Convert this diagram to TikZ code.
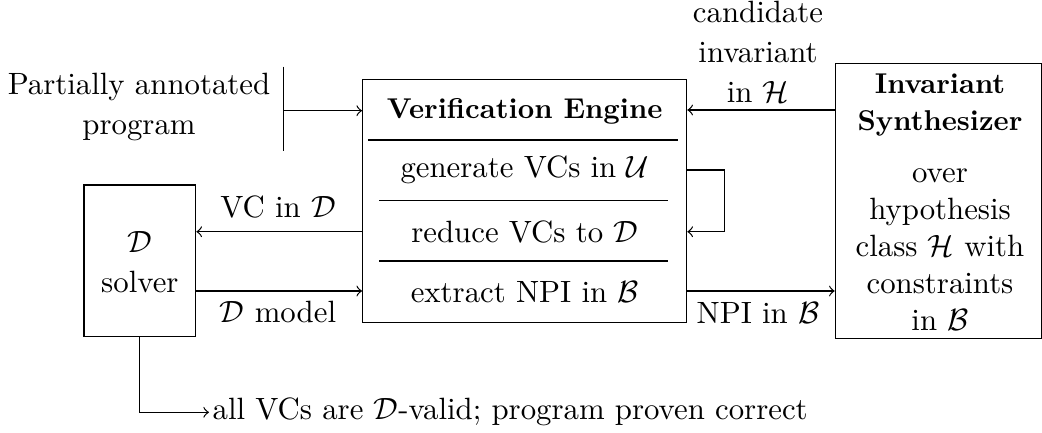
\documentclass[tikz,border=0pt]{standalone}
\usepackage{amsmath}
\newcommand{\bt}[1]{\scalebox{0.93}{\textbf{#1}}}
\begin{document}
\begin{tikzpicture}[x=0.3247pt,y=-0.3247pt,
  box/.style={draw,rectangle,inner sep=0pt},
  txt/.style={inner sep=1pt,align=center},
  conn/.style={->},
  sepline/.style={line width=0.4pt}]
\useasboundingbox (0,0) rectangle (1042,432);
% boxes
\node[box,minimum width=105.2pt,minimum height=78.9pt] (ve) at (524.7,200.8) {};
\node[box,minimum width=67.1pt,minimum height=89.3pt] (syn) at (938.65,200.8) {};
\node[box,minimum width=36.3pt,minimum height=49.3pt] (sol) at (139.85,260.85) {};
% verification engine content
\node[txt] (title) at (524.7,111) {\bt{Verification Engine}};
\node[txt] (gen) at (524.7,170) {generate VCs in $\mathcal{U}$};
\node[txt] (red) at (524.7,231.7) {reduce VCs to $\mathcal{D}$};
\node[txt] (ext) at (524.7,291.7) {extract NPI in $\mathcal{B}$};
\draw[sepline] (368,140) -- (678,140);
\draw[sepline] (379,200.7) -- (668,200.7);
\draw[sepline] (379,261) -- (668,261);
% synthesizer content
\node[txt] (syntitle) at (940,105.5) {\bt{Invariant}\\\bt{Synthesizer}};
\node[txt] (synbody) at (940,250) {over\\hypothesis\\class $\mathcal{H}$ with\\constraints\\in $\mathcal{B}$};
% solver content
\node[txt] (soltext) at (139.85,261.7) {$\mathcal{D}$\\[1pt]solver};
% program input
\node[txt] (prog) at (139,107) {Partially annotated\\[1pt]program};
\draw (283.3,66.7) -- (283.3,150.7);
\coordinate (bar) at (283.3,110.7);
\draw[conn] (bar) -- (ve.west |- bar);
% candidate invariant
\draw[conn] (syn.west |- 0,110) -- (ve.east |- 0,110);
\node[txt] (cand) at (758,52) {candidate\\[1pt]invariant\\[1pt]in $\mathcal{H}$};
% loop
\draw[conn] (ve.east |- gen) -- ++(37.3,0) |- (ve.east |- red);
% VC in D
\draw[conn] (ve.west |- red) -- (sol.east |- red);
\node[txt] (vclab) at (278,206.7) {VC in $\mathcal{D}$};
% D model
\coordinate (mrow) at (0,291);
\draw[conn] (sol.east |- mrow) -- (ve.west |- mrow);
\node[txt] (mlab) at (278,311.7) {$\mathcal{D}$ model};
% NPI
\draw[conn] (ve.east |- mrow) -- (syn.west |- mrow);
\node[txt] (npilab) at (758,313) {NPI in $\mathcal{B}$};
% output
\node[txt,anchor=west] (out) at (209,412.3) {all VCs are $\mathcal{D}$-valid; program proven correct};
\draw[conn] (sol.south) |- (out.west);
\end{tikzpicture}
\end{document}
